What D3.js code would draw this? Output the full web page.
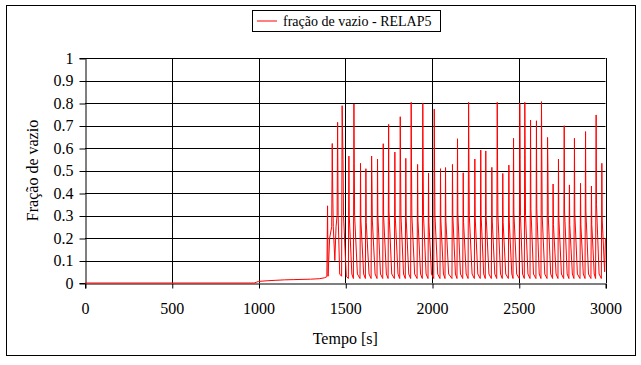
<!DOCTYPE html>
<html><head><meta charset="utf-8">
<script src="https://cdn.jsdelivr.net/npm/d3@7"></script>
<style>
html,body{margin:0;padding:0;background:#fff;}
</style></head>
<body><svg id="c" width="641" height="365"></svg>
<script>
const xTicks = [0, 500, 1000, 1500, 2000, 2500, 3000];
const yTicks = [0, 0.1, 0.2, 0.3, 0.4, 0.5, 0.6, 0.7, 0.8, 0.9, 1];
const seriesName = "fração de vazio - RELAP5";
const xTitle = "Tempo [s]";
const yTitle = "Fração de vazio";
// [tempo (s), fração de vazio]
const serie = [
[0,0],[975,0],[990,0.004],[1000,0.007],[1050,0.01],[1100,0.012],[1150,0.014],[1200,0.015],[1300,0.017],[1350,0.019],[1380,0.023],[1394,0.028],
[1398,0.343],[1401,0.03],[1410,0.2],[1422,0.25],[1425,0.62],[1428,0.40],[1431,0.25],[1440,0.1],[1447,0.25],[1453,0.3],[1456,0.714],[1459,0.3],[1468,0.04],[1479,0.03],[1482,0.788],[1487,0.55],[1490,0.3],[1506,0.03],[1518,0.02],
[1521,0.564],[1523,0.3],[1538,0.04],[1547,0.02],
[1550,0.796],[1552,0.53],[1554,0.3],[1570,0.04],[1585,0.02],
[1588,0.532],[1590,0.28],[1606,0.04],[1616,0.02],
[1619,0.508],[1621,0.27],[1637,0.04],[1649,0.02],
[1652,0.564],[1654,0.44],[1656,0.28],[1672,0.04],[1683,0.02],
[1686,0.551],[1688,0.3],[1703,0.04],[1716,0.02],
[1719,0.619],[1721,0.3],[1737,0.04],[1747,0.02],
[1750,0.705],[1752,0.32],[1768,0.04],[1783,0.02],
[1786,0.582],[1788,0.3],[1804,0.04],[1814,0.02],
[1817,0.739],[1819,0.49],[1821,0.3],[1836,0.04],[1846,0.02],
[1849,0.554],[1851,0.29],[1866,0.04],[1877,0.02],
[1880,0.803],[1882,0.5],[1884,0.3],[1900,0.04],[1914,0.02],
[1917,0.527],[1919,0.28],[1934,0.04],[1944,0.02],
[1947,0.799],[1949,0.52],[1951,0.3],[1966,0.04],[1977,0.02],
[1980,0.489],[1982,0.27],[1997,0.04],[2010,0.02],
[2013,0.773],[2015,0.5],[2017,0.3],[2033,0.04],[2046,0.02],
[2049,0.508],[2051,0.28],[2066,0.04],[2075,0.02],
[2078,0.513],[2080,0.28],[2096,0.04],[2115,0.02],
[2118,0.527],[2120,0.3],[2135,0.04],[2144,0.02],
[2147,0.641],[2149,0.31],[2164,0.04],[2177,0.02],
[2180,0.49],[2182,0.27],[2197,0.04],[2208,0.02],
[2211,0.803],[2213,0.52],[2215,0.3],[2231,0.04],[2244,0.02],
[2247,0.551],[2249,0.29],[2264,0.04],[2278,0.02],
[2281,0.591],[2283,0.3],[2298,0.04],[2307,0.02],
[2310,0.587],[2312,0.3],[2328,0.04],[2342,0.02],
[2345,0.514],[2347,0.28],[2362,0.04],[2373,0.02],
[2376,0.803],[2378,0.52],[2380,0.3],[2395,0.04],[2405,0.02],
[2408,0.487],[2410,0.27],[2425,0.04],[2440,0.02],
[2443,0.524],[2445,0.28],[2460,0.04],[2467,0.02],
[2470,0.643],[2472,0.31],[2488,0.04],[2503,0.02],
[2506,0.799],[2508,0.55],[2510,0.3],[2522,0.04],[2532,0.02],
[2535,0.803],[2537,0.57],[2539,0.3],[2553,0.04],[2565,0.02],
[2568,0.724],[2570,0.33],[2585,0.04],[2599,0.02],
[2602,0.721],[2604,0.33],[2618,0.04],[2628,0.02],
[2631,0.806],[2633,0.56],[2635,0.3],[2650,0.04],[2663,0.02],
[2666,0.647],[2668,0.52],[2670,0.3],[2684,0.04],[2695,0.02],
[2698,0.44],[2700,0.26],[2715,0.04],[2726,0.02],
[2729,0.551],[2731,0.29],[2746,0.04],[2759,0.02],
[2762,0.699],[2764,0.32],[2779,0.04],[2789,0.02],
[2792,0.436],[2794,0.26],[2809,0.04],[2818,0.02],
[2821,0.643],[2823,0.31],[2838,0.04],[2853,0.02],
[2856,0.443],[2858,0.26],[2872,0.04],[2882,0.02],
[2885,0.673],[2887,0.32],[2902,0.04],[2916,0.02],
[2919,0.431],[2921,0.26],[2935,0.04],[2943,0.02],
[2946,0.747],[2948,0.35],[2963,0.04],[2976,0.02],
[2979,0.532],[2981,0.28],[2995,0.05],[3000,0.2]
];

const svg = d3.select("#c");
const L = 85, R = 605.5, T = 58, B = 283;
const x = d3.scaleLinear().domain([0, 3000]).range([L, R]);
const y = d3.scaleLinear().domain([0, 1]).range([B, T]);
const FONT = "'Liberation Serif'";

svg.append("rect").attr("x", 6.5).attr("y", 5.5).attr("width", 629).attr("height", 350)
  .attr("fill", "none").attr("stroke", "#000").attr("stroke-width", 1);

const g = svg.append("g");
g.selectAll("line.h").data(yTicks.filter(d => d > 0)).join("line")
  .attr("x1", L).attr("x2", R).attr("y1", d => Math.round(y(d)) + 0.5).attr("y2", d => Math.round(y(d)) + 0.5)
  .attr("stroke", "#000").attr("stroke-width", 1);
g.selectAll("line.v").data(xTicks.filter(d => d > 0)).join("line")
  .attr("y1", T).attr("y2", B).attr("x1", d => Math.round(x(d)) + 0.5).attr("x2", d => Math.round(x(d)) + 0.5)
  .attr("stroke", "#000").attr("stroke-width", 1);

const xAxis = d3.axisBottom(x).tickValues(xTicks).tickSize(5).tickPadding(14).tickFormat(d3.format("d"));
const yAxis = d3.axisLeft(y).tickValues(yTicks).tickSize(6).tickPadding(6).tickFormat(d => d === 0 ? "0" : d === 1 ? "1" : d3.format(".1f")(d));
const ax = svg.append("g").attr("transform", `translate(0,${Math.round(B) + 0.5})`).call(xAxis);
const ay = svg.append("g").attr("transform", `translate(${L + 0.5},0)`).call(yAxis);
[ax, ay].forEach(a => {
  a.attr("font-family", FONT).attr("font-size", 16);
  a.select(".domain").attr("stroke", "#000");
  a.selectAll(".tick line").attr("stroke", "#000");
  a.selectAll("text").attr("fill", "#000");
});
ax.selectAll(".tick line").attr("transform", "translate(0.5,0)");
ay.selectAll(".tick line").attr("transform", "translate(0,0.5)");

const line = d3.line().x(d => x(d[0])).y(d => y(d[1]));
svg.append("path").datum(serie).attr("d", line)
  .attr("fill", "none").attr("stroke", "#ff0000").attr("stroke-width", 1);

svg.append("text").attr("x", (L + R) / 2).attr("y", 344).attr("text-anchor", "middle")
  .attr("font-family", FONT).attr("font-size", 16).text(xTitle);
svg.append("text").attr("transform", `translate(38,${(T + B) / 2}) rotate(-90)`).attr("text-anchor", "middle")
  .attr("font-family", FONT).attr("font-size", 16).text(yTitle);

const lg = svg.append("g");
lg.append("rect").attr("x", 252.5).attr("y", 10.5).attr("width", 188).attr("height", 21)
  .attr("fill", "#fff").attr("stroke", "#000");
lg.append("line").attr("x1", 257).attr("x2", 277).attr("y1", 21).attr("y2", 21)
  .attr("stroke", "#ff0000").attr("stroke-width", 1);
lg.append("text").attr("x", 283).attr("y", 26).attr("font-family", FONT).attr("font-size", 14).text(seriesName);
</script>
</body></html>
